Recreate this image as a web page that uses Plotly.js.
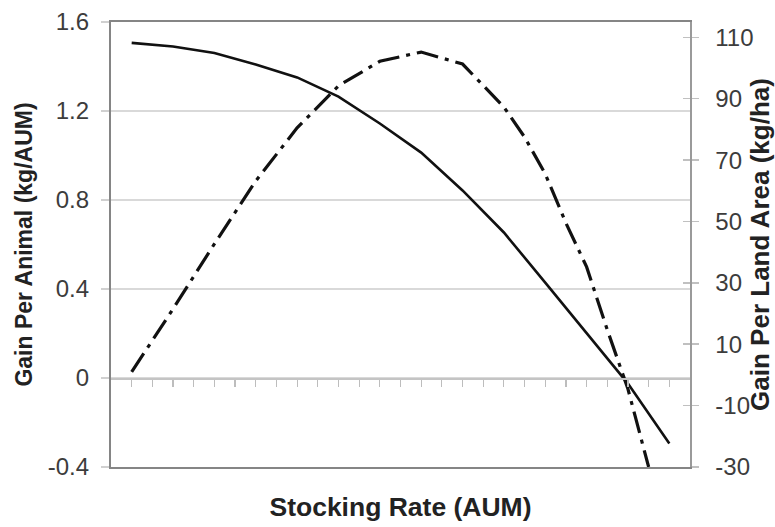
<!DOCTYPE html>
<html>
<head>
<meta charset="utf-8">
<script src="https://cdn.plot.ly/plotly-3.0.1.min.js"></script>
<style>html,body{margin:0;padding:0;background:#fff;}#chart{width:775px;height:527px;}</style>
</head>
<body>
<div id="chart"></div>
<script>
// Stocking rate category positions (1..27)
var xTicks = [1,2,3,4,5,6,7,8,9,10,11,12,13,14,15,16,17,18,19,20,21,22,23,24,25,26,27];

// Gain per animal (kg/AUM) - left axis, solid line
var animalX = [1,3,5,7,9,11,13,15,17,19,21,23,25,27];
var animalGain = [1.506,1.490,1.461,1.409,1.351,1.265,1.144,1.013,0.843,0.654,0.429,0.200,-0.025,-0.294];

// Gain per land area (kg/ha) - right axis, dash-dot line
var areaX = [1,3,5,7,9,11,13,15,17,19,20,21,22,23,24,25,26];
var areaGain = [1.0,21.5,42.7,63.2,80.5,94.2,102.2,105.2,101.3,87.3,77.5,65.5,49.5,35.2,14.7,-4.6,-30];

var leftTicks = [-0.4,0,0.4,0.8,1.2,1.6];
var leftLabels = ['-0.4','0','0.4','0.8','1.2','1.6'];
var rightTicks = [-30,-10,10,30,50,70,90,110];
var rightLabels = ['-30','-10','10','30','50','70','90','110'];

var FONT = 'Liberation Sans, Arial, Helvetica, sans-serif';
var tickFont = {family: FONT, size: 24, color: '#3c3c3c'};
var leftTitleFont = {family: FONT, size: 23, color: '#222', weight: 'bold'};
var rightTitleFont = {family: FONT, size: 26, color: '#222', weight: 'bold'};
var xTitleFont = {family: FONT, size: 26.5, color: '#222', weight: 'bold'};

var traces = [
  {
    x: animalX, y: animalGain, xaxis: 'x', yaxis: 'y',
    type: 'scatter', mode: 'lines', name: 'Gain Per Animal',
    line: {color: '#111', width: 2.6}
  },
  {
    x: areaX, y: areaGain, xaxis: 'x', yaxis: 'y2',
    type: 'scatter', mode: 'lines', name: 'Gain Per Land Area',
    line: {color: '#111', width: 3.2, dash: '22px,7px,4px,7px'}
  },
  {x: [], y: [], xaxis: 'x2', yaxis: 'y', type: 'scatter', mode: 'lines', hoverinfo: 'skip'},
  {x: [], y: [], xaxis: 'x', yaxis: 'y3', type: 'scatter', mode: 'lines', hoverinfo: 'skip'}
];

var layout = {
  width: 775, height: 527,
  margin: {l: 111, r: 85, t: 22, b: 60},
  paper_bgcolor: '#fff', plot_bgcolor: '#fff',
  showlegend: false,
  xaxis: {
    range: [0, 28], showgrid: false, zeroline: false,
    showline: true, linecolor: '#858585', linewidth: 2.2, mirror: true,
    ticks: '', showticklabels: false,
    title: {text: 'Stocking Rate (AUM)', font: xTitleFont, standoff: 29}
  },
  xaxis2: {
    range: [0, 28], overlaying: 'x', anchor: 'free', position: 0.2,
    showgrid: false, zeroline: false,
    showline: true, linecolor: '#c4c4c4', linewidth: 1.5,
    tickvals: xTicks, ticks: 'outside', ticklen: 7, tickcolor: '#bdbdbd', tickwidth: 1.2,
    showticklabels: false
  },
  yaxis: {
    range: [-0.4, 1.6], tickvals: leftTicks, ticktext: leftLabels,
    showgrid: true, gridcolor: '#d9d9d9', gridwidth: 1.5, zeroline: false,
    showline: true, linecolor: '#858585', linewidth: 2.2,
    ticks: 'outside', ticklen: 8, tickcolor: '#d0d0d0', tickwidth: 1.5,
    ticklabelstandoff: 7,
    tickfont: tickFont,
    title: {text: 'Gain Per Animal (kg/AUM)', font: leftTitleFont, standoff: 9}
  },
  yaxis2: {
    range: [-30, 115], overlaying: 'y', side: 'right', anchor: 'x',
    tickvals: rightTicks, ticktext: rightLabels,
    showgrid: false, zeroline: false,
    showline: true, linecolor: '#9a9a9a', linewidth: 1.5,
    ticks: 'outside', ticklen: 7, tickcolor: '#c0c0c0', tickwidth: 1.5,
    ticklabelstandoff: 12,
    tickfont: tickFont,
    title: {text: 'Gain Per Land Area (kg/ha)', font: rightTitleFont, standoff: 0}
  },
  yaxis3: {
    range: [-30, 115], overlaying: 'y', side: 'right', anchor: 'x',
    tickvals: rightTicks, showgrid: false, zeroline: false, showline: false,
    ticks: 'inside', ticklen: 7, tickcolor: '#c0c0c0', tickwidth: 1.5,
    showticklabels: false
  }
};

Plotly.newPlot('chart', traces, layout, {staticPlot: true, displayModeBar: false});
</script>
</body>
</html>
